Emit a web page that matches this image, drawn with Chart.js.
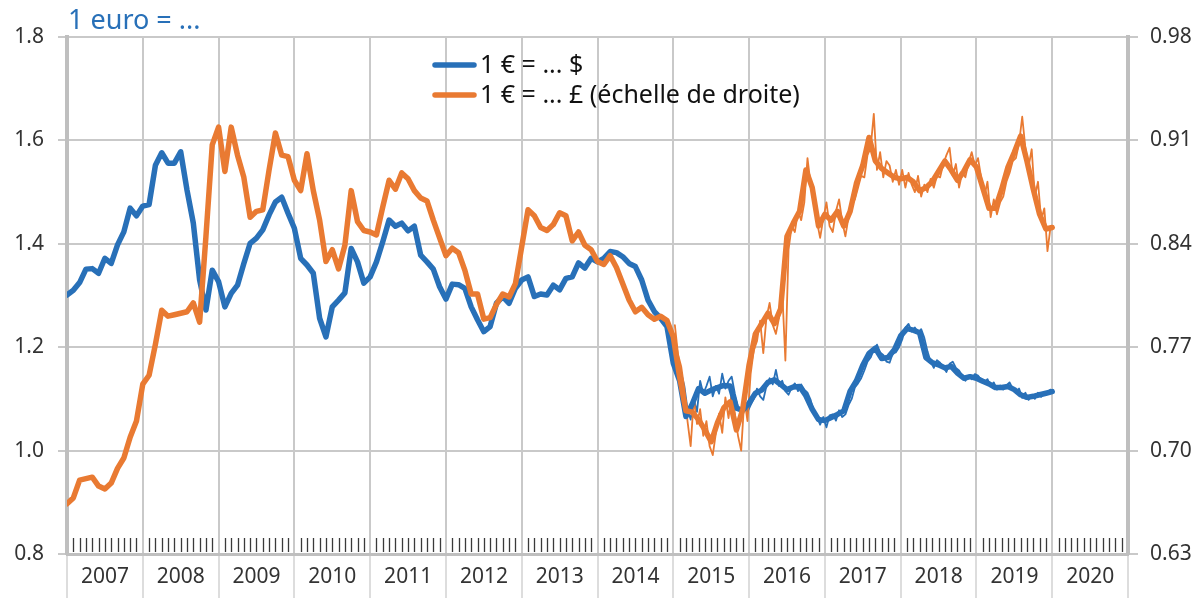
<!DOCTYPE html>
<html><head><meta charset="utf-8">
<script src="https://cdn.jsdelivr.net/npm/chart.js@4.4.1/dist/chart.umd.min.js"></script>
<style>html,body{margin:0;padding:0;background:#fff;} #wrap{width:1200px;height:598px;position:relative;}</style>
</head><body><div id="wrap"><canvas id="c"></canvas></div>
<script>
const startYear = 2007;
const yearLabels = [2007,2008,2009,2010,2011,2012,2013,2014,2015,2016,2017,2018,2019,2020];
const usdMonthly = [
1.301,1.310,1.325,1.351,1.352,1.343,1.372,1.362,1.398,1.423,1.469,1.454,
1.473,1.476,1.552,1.576,1.556,1.556,1.578,1.504,1.440,1.330,1.272,1.349,
1.327,1.278,1.304,1.320,1.362,1.401,1.411,1.427,1.456,1.481,1.490,1.459,
1.430,1.372,1.359,1.343,1.256,1.220,1.278,1.291,1.305,1.391,1.365,1.324,
1.336,1.365,1.404,1.446,1.434,1.440,1.425,1.434,1.378,1.365,1.351,1.317,
1.293,1.322,1.321,1.314,1.278,1.253,1.230,1.240,1.285,1.298,1.285,1.314,
1.330,1.336,1.298,1.303,1.301,1.320,1.311,1.333,1.336,1.363,1.353,1.372,
1.365,1.372,1.385,1.383,1.375,1.362,1.356,1.330,1.291,1.269,1.256,1.240,
1.169,1.135,1.066,1.090,1.120,1.111,1.117,1.122,1.126,1.125,1.082,1.078,
1.092,1.111,1.117,1.132,1.137,1.128,1.118,1.123,1.124,1.106,1.080,1.060,
1.058,1.064,1.070,1.077,1.115,1.135,1.165,1.188,1.198,1.178,1.180,1.195,
1.222,1.236,1.233,1.228,1.180,1.170,1.166,1.160,1.163,1.150,1.140,1.143,
1.140,1.134,1.129,1.122,1.122,1.124,1.118,1.108,1.103,1.105,1.108,1.111,
1.114];
const gbpMonthly = [
0.664,0.668,0.680,0.681,0.682,0.676,0.674,0.678,0.688,0.695,0.709,0.720,
0.745,0.751,0.772,0.795,0.791,0.792,0.793,0.794,0.800,0.787,0.845,0.907,
0.919,0.889,0.919,0.900,0.885,0.858,0.862,0.863,0.890,0.915,0.900,0.899,
0.883,0.876,0.901,0.876,0.856,0.828,0.836,0.823,0.839,0.876,0.855,0.849,
0.848,0.846,0.865,0.883,0.877,0.888,0.884,0.876,0.871,0.869,0.856,0.844,
0.832,0.837,0.834,0.822,0.806,0.806,0.789,0.790,0.799,0.806,0.804,0.813,
0.838,0.863,0.859,0.851,0.849,0.853,0.861,0.859,0.842,0.848,0.839,0.836,
0.828,0.826,0.832,0.824,0.813,0.802,0.794,0.797,0.792,0.789,0.791,0.788,
0.777,0.750,0.727,0.726,0.721,0.714,0.706,0.719,0.729,0.733,0.714,0.728,
0.758,0.779,0.786,0.793,0.786,0.796,0.845,0.854,0.862,0.890,0.878,0.852,
0.860,0.856,0.862,0.852,0.862,0.881,0.893,0.912,0.896,0.891,0.888,0.885,
0.884,0.885,0.882,0.876,0.878,0.882,0.889,0.896,0.890,0.883,0.889,0.897,
0.892,0.878,0.864,0.864,0.877,0.892,0.902,0.913,0.896,0.877,0.860,0.850,
0.851];
const dailyStart = 2015;
const usdDaily = [
1.175,1.140,1.150,1.125,1.080,1.060,1.100,1.075,1.135,1.110,1.125,1.143,1.105,1.125,1.110,1.149,1.120,1.135,1.143,1.110,1.085,1.070,1.095,1.075,
1.088,1.100,1.120,1.105,1.098,1.125,1.140,1.128,1.156,1.125,1.135,1.115,1.108,1.122,1.130,1.115,1.128,1.118,1.112,1.098,1.075,1.065,1.050,1.065,
1.045,1.068,1.070,1.058,1.078,1.065,1.070,1.088,1.100,1.122,1.130,1.140,1.155,1.172,1.180,1.195,1.205,1.190,1.185,1.172,1.170,1.188,1.190,1.200,
1.215,1.238,1.245,1.230,1.238,1.228,1.235,1.218,1.192,1.172,1.160,1.175,1.170,1.162,1.152,1.168,1.172,1.160,1.155,1.145,1.135,1.145,1.138,1.148,
1.145,1.137,1.132,1.138,1.125,1.132,1.118,1.126,1.118,1.126,1.132,1.120,1.114,1.120,1.102,1.112,1.098,1.106,1.100,1.112,1.104,1.110,1.114,1.118];
const gbpDaily = [
0.785,0.765,0.757,0.742,0.720,0.703,0.735,0.718,0.728,0.710,0.720,0.703,0.697,0.712,0.725,0.712,0.736,0.722,0.740,0.725,0.710,0.700,0.735,0.720,
0.752,0.768,0.774,0.788,0.766,0.790,0.800,0.785,0.779,0.790,0.808,0.761,0.836,0.852,0.848,0.862,0.856,0.868,0.898,0.880,0.872,0.855,0.844,0.857,
0.868,0.852,0.848,0.862,0.870,0.855,0.845,0.858,0.868,0.870,0.878,0.886,0.885,0.900,0.905,0.928,0.890,0.902,0.885,0.896,0.893,0.882,0.890,0.880,
0.890,0.878,0.888,0.880,0.875,0.886,0.872,0.880,0.875,0.884,0.878,0.886,0.885,0.894,0.900,0.905,0.886,0.894,0.878,0.888,0.885,0.895,0.902,0.893,
0.898,0.885,0.872,0.882,0.858,0.870,0.860,0.868,0.872,0.882,0.888,0.896,0.898,0.908,0.926,0.905,0.892,0.904,0.872,0.882,0.856,0.864,0.835,0.852];
const leftTicks = [0.8,1.0,1.2,1.4,1.6,1.8];
const rightTicks = [0.63,0.70,0.77,0.84,0.91,0.98];
const seriesNames = ['1 € = ... $','1 € = ... £ (échelle de droite)'];
const titleText = '1 euro = ...';

const BLUE = '#2870B8', ORANGE = '#E97A32';
const GRID = '#c9c9c9', AXIS = '#bfbfbf', TXT = '#333333';
const FONT = '"Noto Sans", "Open Sans", sans-serif';

const monthlyPts = arr => arr.map((v,i)=>({x:startYear+i/12, y:v}));
const dailyPts = arr => arr.map((v,j)=>({x:dailyStart+(j+0.5)/24, y:v}));

const lineBase = {pointRadius:0, tension:0, borderJoinStyle:'round', borderCapStyle:'round', fill:false};

const decorPlugin = {
  id:'decor',
  beforeDatasetsDraw(chart){
    const ctx = chart.ctx, xs = chart.scales.x, b = chart.chartArea.bottom;
    ctx.save();
    ctx.strokeStyle = '#3a3a3a'; ctx.lineWidth = 1.3;
    yearLabels.forEach(y=>{
      for(let m=1;m<12;m++){
        const px = Math.round(xs.getPixelForValue(y+m/12))+0.5;
        ctx.beginPath(); ctx.moveTo(px,b-16); ctx.lineTo(px,b-2); ctx.stroke();
      }
    });
    ctx.restore();
  },
  afterDraw(chart){
    const ctx = chart.ctx, ca = chart.chartArea;
    ctx.save();
    ctx.fillStyle = BLUE; ctx.font = '27px '+FONT; ctx.textBaseline='middle'; ctx.textAlign='left';
    ctx.fillText(titleText, ca.left+1, 21);
    const items = [{c:BLUE,t:seriesNames[0],y:65},{c:ORANGE,t:seriesNames[1],y:95}];
    items.forEach(it=>{
      ctx.strokeStyle = it.c; ctx.lineWidth = 5.5; ctx.lineCap='round';
      ctx.beginPath(); ctx.moveTo(435,it.y); ctx.lineTo(474,it.y); ctx.stroke();
      ctx.fillStyle = '#111'; ctx.font = '25px '+FONT; ctx.textBaseline='middle';
      ctx.fillText(it.t, 480, it.y+1);
    });
    ctx.restore();
  }
};

new Chart(document.getElementById('c'), {
  type:'line',
  data:{datasets:[
    Object.assign({label:seriesNames[1], data:monthlyPts(gbpMonthly), borderColor:ORANGE, borderWidth:5.5, yAxisID:'y2', order:0}, lineBase),
    Object.assign({label:seriesNames[0], data:monthlyPts(usdMonthly), borderColor:BLUE, borderWidth:5.5, yAxisID:'y', order:1}, lineBase),
    Object.assign({label:'gbp_d', data:dailyPts(gbpDaily), borderColor:ORANGE, borderWidth:1.8, yAxisID:'y2', order:2}, lineBase),
    Object.assign({label:'usd_d', data:dailyPts(usdDaily), borderColor:BLUE, borderWidth:1.8, yAxisID:'y', order:3}, lineBase)
  ]},
  options:{
    responsive:true, maintainAspectRatio:false, animation:false, events:[],
    layout:{padding:{top:37,left:0,right:0,bottom:0}},
    plugins:{legend:{display:false}, tooltip:{enabled:false}, title:{display:false}},
    scales:{
      x:{type:'linear', min:2007, max:2021,
        afterBuildTicks:s=>{s.ticks = yearLabels.concat([2021]).map(v=>({value:v}));},
        afterFit:s=>{s.height = 44;},
        grid:{color:GRID, lineWidth:2, tickLength:44, drawTicks:true, tickColor:'#d2d2d2', tickWidth:1.5},
        border:{color:AXIS, width:3},
        ticks:{autoSkip:false, maxRotation:0, labelOffset:38, padding:-34, color:TXT, font:{family:FONT, size:21},
          callback:v=> v<2021 ? String(v) : ''}
      },
      y:{position:'left', min:0.8, max:1.8,
        afterBuildTicks:s=>{s.ticks = leftTicks.map(v=>({value:v}));},
        afterFit:s=>{s.width = 67;},
        grid:{color:GRID, lineWidth:2, tickLength:9},
        border:{color:AXIS, width:4},
        ticks:{padding:14, color:TXT, font:{family:FONT, size:21}, callback:v=>Number(v).toFixed(1)}
      },
      y2:{position:'right', min:0.63, max:0.98,
        afterBuildTicks:s=>{s.ticks = rightTicks.map(v=>({value:v}));},
        afterFit:s=>{s.width = 72;},
        grid:{drawOnChartArea:false, color:GRID, lineWidth:2, tickLength:10},
        border:{color:AXIS, width:4},
        ticks:{padding:12, color:TXT, font:{family:FONT, size:21}, callback:v=>Number(v).toFixed(2)}
      }
    }
  },
  plugins:[decorPlugin]
});
</script></body></html>
